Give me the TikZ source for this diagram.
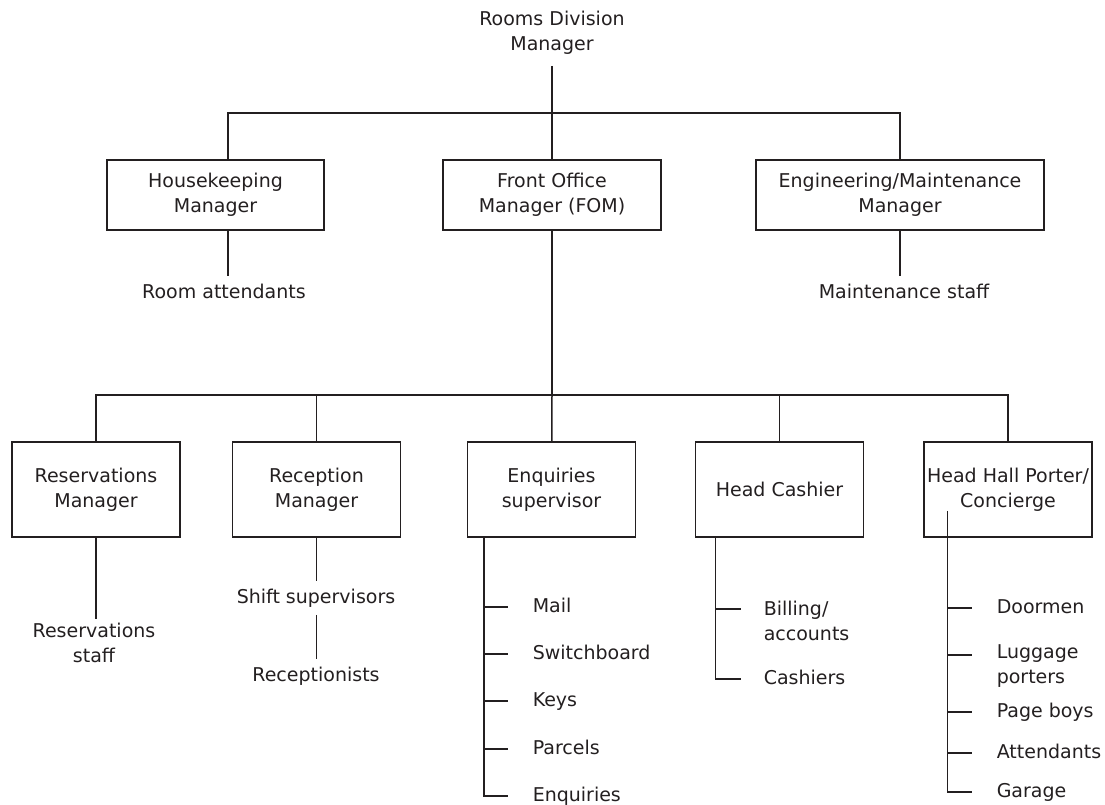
\documentclass[tikz,border=0pt]{standalone}
\usepackage{fontspec}
\setmainfont{DejaVu Sans}
\definecolor{ink}{RGB}{35,31,32}
\tikzset{
  mgr/.style={draw, minimum height=70pt, inner sep=2pt},
  sub/.style={draw, minimum width=168pt, minimum height=95pt, inner sep=1pt},
  lbl/.style={text height=14pt, text depth=4pt, inner xsep=0pt, inner ysep=7pt},
  item/.style={anchor=west, inner sep=0pt, text height=14pt, text depth=4pt},
  items/.style={anchor=west, inner sep=0pt, align=left},
}
\begin{document}
\begin{tikzpicture}[x=1pt, y=-1pt, color=ink, line width=1.5pt,
  every node/.style={font=\fontsize{19}{25}\selectfont, align=center}]
  \useasboundingbox (0,0) rectangle (1105,804);

  \node[inner ysep=10.5pt] (RDM) at (552,33) {Rooms Division\\Manager};
  \node[mgr, minimum width=217pt] (HK) at (215.5,195) {Housekeeping\\Manager};
  \node[mgr, minimum width=218pt] (FOM) at (552,195) {Front Office\\Manager (FOM)};
  \node[mgr, minimum width=288pt] (ENG) at (900,195) {Engineering/Maintenance\\Manager};
  \node[lbl] (RA) at (224,293) {Room attendants};
  \node[lbl] (MS) at (904,293) {Maintenance staff};

  \node[sub] (RES) at (96,489.5) {Reservations\\Manager};
  \node[sub] (REC) at (316.5,489.5) {Reception\\Manager};
  \node[sub] (ENQ) at (551.5,489.5) {Enquiries\\supervisor};
  \node[sub] (CASH) at (779.5,489.5) {Head Cashier};
  \node[sub] (HHP) at (1008,489.5) {Head Hall Porter/\\Concierge};

  \node[inner ysep=3.5pt] (RS) at (94,643) {Reservations\\staff};
  \node[lbl] (SS) at (316,598) {Shift supervisors};
  \node[lbl] (RC) at (316,676) {Receptionists};

  \node[item] (M) at (532,607) {Mail};
  \node[item] (SW) at (532,654) {Switchboard};
  \node[item] (K) at (532,701) {Keys};
  \node[item] (P) at (532,749) {Parcels};
  \node[item] (E) at (532,796) {Enquiries};

  \node[items] (BA) at (763,621) {Billing/\\accounts};
  \node[item] (CA) at (763,679) {Cashiers};

  \node[item] (DO) at (996,608) {Doormen};
  \node[items] (LP) at (996,666) {Luggage\\porters};
  \node[item] (PB) at (996,712) {Page boys};
  \node[item] (AT) at (996,753) {Attendants};
  \node[item] (GA) at (996,792) {Garage};

  \coordinate (T) at (552,113);
  \coordinate (L) at (552,395);

  % upper level
  \draw (RDM.south) -- (T);
  \draw ([xshift=12.5pt]HK.north) |- (T) -| (ENG.north);
  \draw (T) -- (FOM);
  \draw ([xshift=12.5pt]HK.south) -- ([xshift=12.5pt]HK.south |- RA.north);
  \draw (ENG.south) -- (ENG.south |- MS.north);

  % front office level
  \draw (FOM) -- (L);
  \draw (RES.north) |- (L) -| (HHP.north);
  \draw (REC.north) -- (REC.north |- L);
  \draw (CASH.north) -- (CASH.north |- L);
  \draw (L) -- (ENQ);
  \draw (RES.south) -- (RES.south |- RS.north);
  \draw (REC.south) -- (REC.south |- SS.north);
  \draw (REC.south |- SS.south) -- (REC.south |- RC.north);

  % staff lists
  \draw ([xshift=17pt]ENQ.south west) |- ([xshift=-24pt]E.west);
  \draw ([xshift=-48pt]M.west) -- ([xshift=-24pt]M.west);
  \draw ([xshift=-48pt]SW.west) -- ([xshift=-24pt]SW.west);
  \draw ([xshift=-48pt]K.west) -- ([xshift=-24pt]K.west);
  \draw ([xshift=-48pt]P.west) -- ([xshift=-24pt]P.west);

  \draw ([xshift=20.5pt]CASH.south west) |- ([xshift=-22pt]CA.west);
  \draw ([xshift=-47pt,yshift=12pt]BA.west) -- ([xshift=-22pt,yshift=12pt]BA.west);

  \draw ([xshift=24pt,yshift=27pt]HHP.south west) |- ([xshift=-24pt]GA.west);
  \draw ([xshift=-48pt]DO.west) -- ([xshift=-24pt]DO.west);
  \draw ([xshift=-48pt,yshift=11pt]LP.west) -- ([xshift=-24pt,yshift=11pt]LP.west);
  \draw ([xshift=-48pt]PB.west) -- ([xshift=-24pt]PB.west);
  \draw ([xshift=-48pt]AT.west) -- ([xshift=-24pt]AT.west);

\end{tikzpicture}
\end{document}
